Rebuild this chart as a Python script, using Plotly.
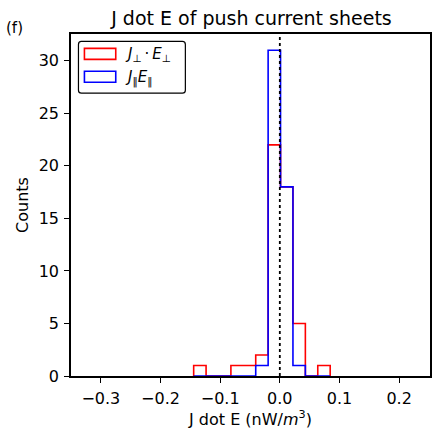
import plotly.graph_objects as go

# ---- data ----
bin_edges = [-0.1444, -0.1236, -0.1028, -0.0820, -0.0612, -0.0404,
             -0.0196, 0.0012, 0.0220, 0.0428, 0.0636, 0.0844]
counts_perp = [1, 0, 0, 1, 1, 2, 22, 18, 5, 0, 1]
counts_par = [0, 0, 0, 0, 0, 1, 31, 18, 1, 0, 0]
x_ticks = [-0.3, -0.2, -0.1, 0.0, 0.1, 0.2]
y_ticks = [0, 5, 10, 15, 20, 25, 30]

W, H = 437, 429
L, R, T, B = 71, 432, 34, 378  # plot area in px
FONT = "DejaVu Sans"


def step_xy(edges, counts):
    xs = [edges[0]] + list(edges[:-1]) + [edges[-1]]
    ys = [0] + list(counts) + [0]
    return xs, ys


def px(x):
    return (x - L) / (R - L)


def py(y):
    return (B - y) / (B - T)


fig = go.Figure()
for counts, color in [(counts_perp, "#ff0000"), (counts_par, "#0000ff")]:
    xs, ys = step_xy(bin_edges, counts)
    fig.add_trace(go.Scatter(x=xs, y=ys, mode="lines", line=dict(color=color, width=1.6, shape="hv"),
                             showlegend=False, hoverinfo="skip"))

shapes = [
    dict(type="line", xref="x", yref="paper", x0=0, x1=0, y0=0, y1=1,
         line=dict(color="black", width=1.8, dash="dot")),
]

# legend box (rounded)
x0, x1, y0, y1 = px(78.5), px(186), py(41.5), py(93.5)
rx, ry = 3 / (R - L), 3 / (B - T)
path = (f"M{x0+rx},{y0} L{x1-rx},{y0} Q{x1},{y0} {x1},{y0-ry} "
        f"L{x1},{y1+ry} Q{x1},{y1} {x1-rx},{y1} L{x0+rx},{y1} Q{x0},{y1} {x0},{y1+ry} "
        f"L{x0},{y0-ry} Q{x0},{y0} {x0+rx},{y0} Z")
shapes.append(dict(type="path", xref="paper", yref="paper", path=path,
                   line=dict(color="black", width=1.2), fillcolor="white"))
shapes.append(dict(type="rect", xref="paper", yref="paper", x0=px(84.5), x1=px(116), y0=py(48.5), y1=py(59.5),
                   line=dict(color="#ff0000", width=1.6), fillcolor="rgba(0,0,0,0)"))
shapes.append(dict(type="rect", xref="paper", yref="paper", x0=px(84.5), x1=px(116), y0=py(71.5), y1=py(82.5),
                   line=dict(color="#0000ff", width=1.6), fillcolor="rgba(0,0,0,0)"))

annotations = [
    dict(xref="paper", yref="paper", x=px(123), y=py(55), xanchor="left", yanchor="middle", showarrow=False,
         text="<i>J</i><sub>⊥</sub>\u2009·\u2009<i>E</i><sub>⊥</sub>", font=dict(family=FONT, size=15, color="black")),
    dict(xref="paper", yref="paper", x=px(123), y=py(78), xanchor="left", yanchor="middle", showarrow=False,
         text="<i>J</i><sub>‖</sub><i>E</i><sub>‖</sub>", font=dict(family=FONT, size=15, color="black")),
    dict(xref="paper", yref="paper", x=px(4), y=py(28), xanchor="left", yanchor="middle", showarrow=False,
         text="(f)", font=dict(family=FONT, size=15, color="black")),
]

fig.update_layout(
    width=W, height=H,
    margin=dict(l=L, r=W - R, t=T, b=H - B, pad=0),
    paper_bgcolor="white", plot_bgcolor="white",
    font=dict(family=FONT, size=16, color="black"),
    title=dict(text="J dot E of push current sheets", x=(L + R) / 2 / W, xanchor="center",
               y=1 - 18 / H, yanchor="middle", font=dict(family=FONT, size=19, color="black")),
    shapes=shapes, annotations=annotations,
    showlegend=False,
)
fig.update_xaxes(range=[-0.35, 0.2517], tickvals=x_ticks, tickformat=".1f",
                 tickfont=dict(family=FONT, size=16, color="black"), ticklabelstandoff=2,
                 showgrid=False, zeroline=False, showline=True, mirror=True, linecolor="black", linewidth=1.5,
                 ticks="outside", ticklen=5, tickwidth=1.2, tickcolor="black",
                 title=dict(text="J dot E (nW/<i>m</i><sup>3</sup>)", standoff=5,
                            font=dict(family=FONT, size=16, color="black")))
fig.update_yaxes(range=[0, 32.55], tickvals=y_ticks,
                 tickfont=dict(family=FONT, size=16, color="black"), ticklabelstandoff=2,
                 showgrid=False, zeroline=False, showline=True, mirror=True, linecolor="black", linewidth=1.5,
                 ticks="outside", ticklen=5, tickwidth=1.2, tickcolor="black",
                 title=dict(text="Counts", standoff=6, font=dict(family=FONT, size=16, color="black")))

fig.write_html("out.html")
